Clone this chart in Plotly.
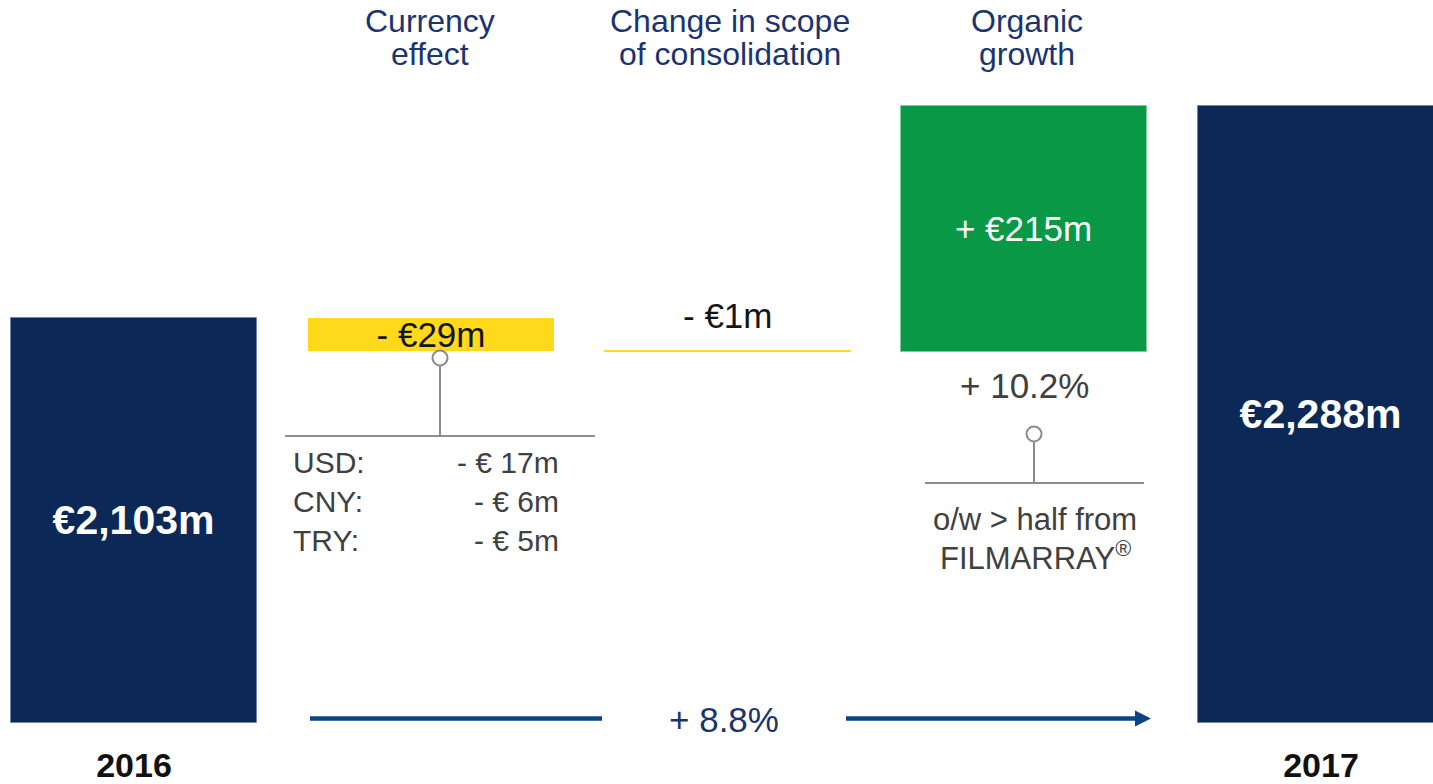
import plotly.graph_objects as go

# ---------------- data ----------------
categories = ["2016", "Currency effect", "Change in scope of consolidation", "Organic growth", "2017"]
header_lines = [["Currency", "effect"], ["Change in scope", "of consolidation"], ["Organic", "growth"]]
start_value = 2103
changes = [-29, -1, 215]
end_value = 2288
year_labels = ["2016", "2017"]
currencies = ["USD:", "CNY:", "TRY:"]
currency_impacts = [-17, -6, -5]
organic_pct = 10.2
total_pct = 8.8
organic_note = ["o/w > half from", "FILMARRAY<sup>®</sup>"]

# ---------------- layout constants ----------------
OFF = 0                      # page body margin (removed by post_script)
W, H = 1433 - 2 * OFF, 784 - 2 * OFF
BOTTOM_PX = 723              # page px of the plot-area bottom
PLOT_H = BOTTOM_PX - OFF
Y_FLOOR = 1749               # floor of the truncated value axis
PX_PER_M = 1.145
Y_TOP = Y_FLOOR + PLOT_H / PX_PER_M
X_STEP = 296.75              # px between categories
X0_PX = 134                  # page px of first category centre

NAVY = "#0B2856"
YELLOW = "#FFD91A"
GREEN = "#089846"
HEAD = "#1B3470"
GREY_TXT = "#404040"
GREY_LINE = "#8C8C8C"
ARROW = "#0E4383"
FONT = "Liberation Sans, Arial, sans-serif"


def xp(px):
    return (px - OFF) / W


def yp(py):
    return (BOTTOM_PX - py) / PLOT_H


# ---------------- bars ----------------
xs = list(range(len(categories)))
bases, heights = [Y_FLOOR], [start_value - Y_FLOOR]
running = start_value
for c in changes:
    bases.append(running)
    heights.append(c)
    running += c
bases.append(Y_FLOOR)
heights.append(end_value - Y_FLOOR)


def fmt_change(v):
    return f"{'-' if v < 0 else '+'} €{abs(v)}m"


bar_text = [f"<b>€{start_value:,}m</b>", fmt_change(changes[0]), fmt_change(changes[1]),
            fmt_change(changes[2]), f"<b>€{end_value:,}m</b>"]
text_pos = ["inside", "inside", "none", "inside", "inside"]
colors = [NAVY, YELLOW, YELLOW, GREEN, NAVY]
text_colors = ["white", "#151515", "#151515", "white", "white"]
text_sizes = [41, 35, 35, 35, 41]
line_colors = ["#6F86AD", YELLOW, YELLOW, "#7FCB9C", "#6F86AD"]
line_widths = [1, 0, 1, 1, 1]

fig = go.Figure()
fig.add_trace(go.Bar(
    x=xs, y=heights, base=bases, width=0.829,
    marker=dict(color=colors, line=dict(color=line_colors, width=line_widths)),
    text=bar_text, textposition=text_pos, insidetextanchor="middle",
    constraintext="none", textangle=0,
    textfont=dict(color=text_colors, size=text_sizes, family=FONT),
    hoverinfo="skip", showlegend=False,
))

annotations = []
shapes = []

# headers
header_x = [430, 730, 1027]
for hx, lines in zip(header_x, header_lines):
    for i, ln in enumerate(lines):
        annotations.append(dict(
            x=xp(hx), y=yp(21 + 33 * i), xref="paper", yref="paper",
            text=ln, showarrow=False, xanchor="center", yanchor="middle",
            font=dict(family=FONT, size=32, color=HEAD),
        ))

# scope change label above its line
annotations.append(dict(
    x=2, y=bases[2], xref="x", yref="y", text=fmt_change(changes[1]),
    showarrow=False, xanchor="center", yanchor="middle", yshift=35,
    font=dict(family=FONT, size=35, color="#151515"),
))
# organic growth %
annotations.append(dict(
    x=3, y=bases[3], xref="x", yref="y", text=f"+ {organic_pct}%",
    showarrow=False, xanchor="center", yanchor="middle", yshift=-33,
    font=dict(family=FONT, size=35, color=GREY_TXT),
))

# currency breakdown
for i, (cur, imp) in enumerate(zip(currencies, currency_impacts)):
    yy = yp(463 + 38.5 * i)
    annotations.append(dict(
        x=xp(291), y=yy, xref="paper", yref="paper", text=cur, showarrow=False,
        xanchor="left", yanchor="middle", font=dict(family=FONT, size=30, color=GREY_TXT),
    ))
    annotations.append(dict(
        x=xp(561), y=yy, xref="paper", yref="paper", text=f"- € {abs(imp)}m", showarrow=False,
        xanchor="right", yanchor="middle", font=dict(family=FONT, size=30, color=GREY_TXT),
    ))

# organic note
for i, ln in enumerate(organic_note):
    annotations.append(dict(
        x=xp(1035), y=yp(519 + 37 * i), xref="paper", yref="paper", text=ln, showarrow=False,
        xanchor="center", yanchor="middle", font=dict(family=FONT, size=31, color=GREY_TXT),
    ))

# total growth label + arrow
annotations.append(dict(
    x=xp(724), y=yp(719), xref="paper", yref="paper", text=f"+ {total_pct}%", showarrow=False,
    xanchor="center", yanchor="middle", font=dict(family=FONT, size=35, color=HEAD),
))
ARROW_Y = 718.5
shapes.append(dict(type="line", xref="paper", yref="paper",
                   x0=xp(310), x1=xp(602), y0=yp(ARROW_Y), y1=yp(ARROW_Y),
                   line=dict(color=ARROW, width=4.5)))
shapes.append(dict(type="line", xref="paper", yref="paper",
                   x0=xp(846), x1=xp(1138), y0=yp(ARROW_Y), y1=yp(ARROW_Y),
                   line=dict(color=ARROW, width=4.5)))
shapes.append(dict(type="path", xref="paper", yref="paper",
                   path=f"M {xp(1135)} {yp(ARROW_Y - 8)} L {xp(1151)} {yp(ARROW_Y)} "
                        f"L {xp(1135)} {yp(ARROW_Y + 8)} Z",
                   fillcolor=ARROW, line=dict(color=ARROW, width=0)))


# callouts
def callout(cx, cy, y_line, x_l, x_r):
    shapes.append(dict(type="line", xref="paper", yref="paper",
                       x0=xp(x_l), x1=xp(x_r), y0=yp(y_line), y1=yp(y_line),
                       line=dict(color=GREY_LINE, width=2)))
    shapes.append(dict(type="line", xref="paper", yref="paper",
                       x0=xp(cx), x1=xp(cx), y0=yp(cy), y1=yp(y_line),
                       line=dict(color=GREY_LINE, width=2)))
    r = 7.5
    shapes.append(dict(type="circle", xref="paper", yref="paper",
                       x0=xp(cx - r), x1=xp(cx + r), y0=yp(cy + r), y1=yp(cy - r),
                       fillcolor="white", line=dict(color=GREY_LINE, width=2)))


callout(440, 358, 436, 285, 595)
callout(1034, 434, 483, 925, 1144)

fig.update_layout(
    width=W, height=H,
    margin=dict(l=0, r=0, t=0, b=OFF + H - BOTTOM_PX, pad=0, autoexpand=False),
    paper_bgcolor="white", plot_bgcolor="white",
    bargap=0,
    xaxis=dict(
        range=[(OFF - X0_PX) / X_STEP, (OFF + W - X0_PX) / X_STEP],
        tickvals=[0, 4], ticktext=[f"<b>{y}</b>" for y in year_labels],
        tickfont=dict(family=FONT, size=34, color="#111111"),
        showgrid=False, zeroline=False, showline=False, ticks="",
        ticklabelstandoff=19, automargin=False,
    ),
    yaxis=dict(range=[Y_FLOOR, Y_TOP], visible=False, showgrid=False, zeroline=False,
               automargin=False),
    annotations=annotations,
    shapes=shapes,
    font=dict(family=FONT),
)

fig.write_html("out.html",
               config={"displayModeBar": False},
               post_script="document.body.style.margin='0px';document.body.style.overflow='hidden';")
